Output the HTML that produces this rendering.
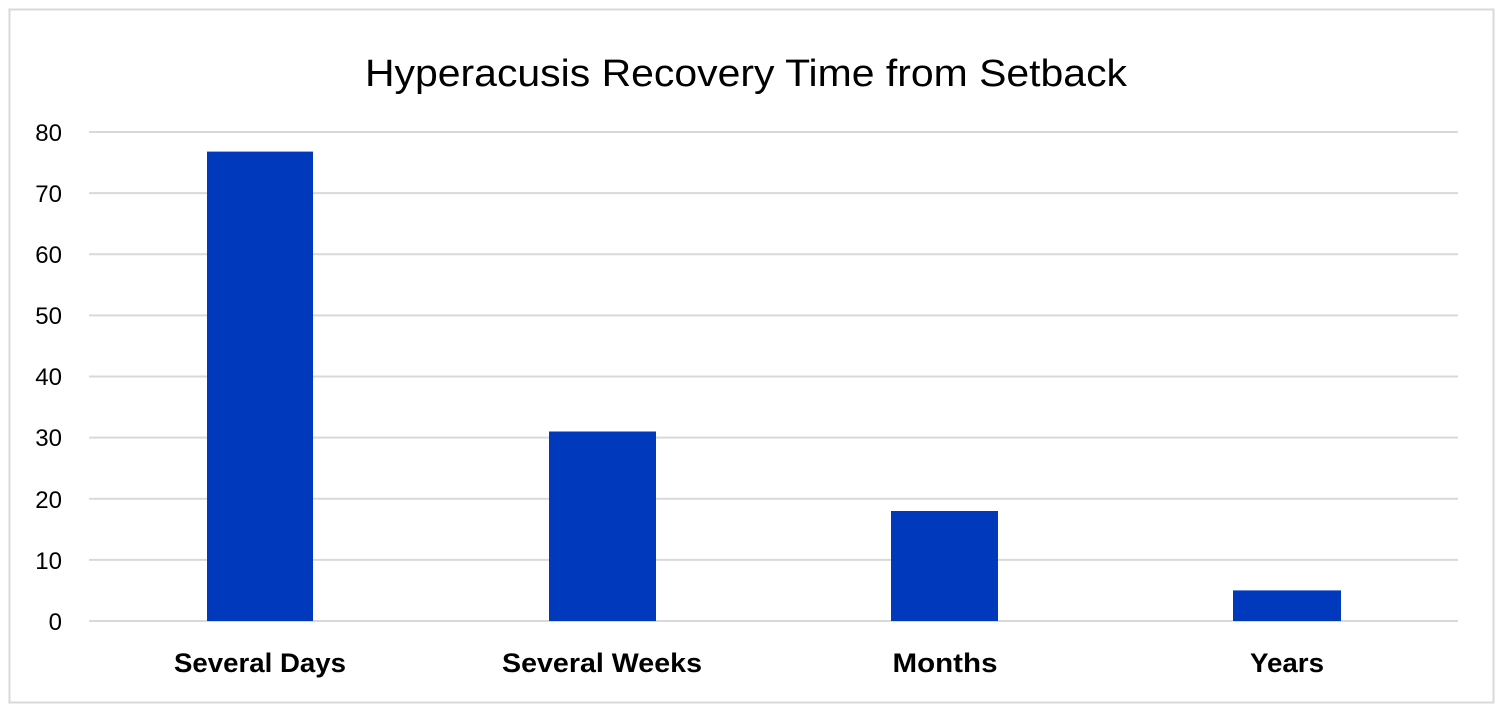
<!DOCTYPE html>
<html><head><style>
body{margin:0;background:#fff;width:1500px;height:715px;overflow:hidden}
</style></head><body>
<svg width="1500" height="715" xmlns="http://www.w3.org/2000/svg" font-family="Liberation Sans, sans-serif">
<rect x="9.5" y="9.5" width="1484" height="693" fill="#fff" stroke="#d9d9d9" stroke-width="2"/>
<text x="746" y="86" font-size="38" text-anchor="middle" fill="#000" textLength="762" lengthAdjust="spacingAndGlyphs">Hyperacusis Recovery Time from Setback</text>
<g stroke="#d9d9d9" stroke-width="2">
<line x1="89" x2="1458" y1="132" y2="132"/>
<line x1="89" x2="1458" y1="193.1" y2="193.1"/>
<line x1="89" x2="1458" y1="254.3" y2="254.3"/>
<line x1="89" x2="1458" y1="315.4" y2="315.4"/>
<line x1="89" x2="1458" y1="376.5" y2="376.5"/>
<line x1="89" x2="1458" y1="437.6" y2="437.6"/>
<line x1="89" x2="1458" y1="498.8" y2="498.8"/>
<line x1="89" x2="1458" y1="559.9" y2="559.9"/>
<line x1="89" x2="1458" y1="621" y2="621"/>
</g>
<g font-size="24" text-anchor="end" fill="#000">
<text x="62" y="141">80</text><text x="62" y="202">70</text><text x="62" y="263">60</text>
<text x="62" y="324">50</text><text x="62" y="385">40</text><text x="62" y="446">30</text>
<text x="62" y="508">20</text><text x="62" y="569">10</text><text x="62" y="630">0</text>
</g>
<g fill="#0039bb">
<rect x="207" y="151.6" width="106" height="469.4"/>
<rect x="549" y="431.5" width="107" height="189.5"/>
<rect x="891" y="511" width="107" height="110"/>
<rect x="1233" y="590.4" width="108" height="30.6"/>
</g>
<g font-size="27" font-weight="bold" text-anchor="middle" fill="#000">
<text x="260" y="672" textLength="172" lengthAdjust="spacingAndGlyphs">Several Days</text>
<text x="602" y="672" textLength="200" lengthAdjust="spacingAndGlyphs">Several Weeks</text>
<text x="945" y="672" textLength="105" lengthAdjust="spacingAndGlyphs">Months</text>
<text x="1287" y="672" textLength="74" lengthAdjust="spacingAndGlyphs">Years</text>
</g>
</svg>
</body></html>
